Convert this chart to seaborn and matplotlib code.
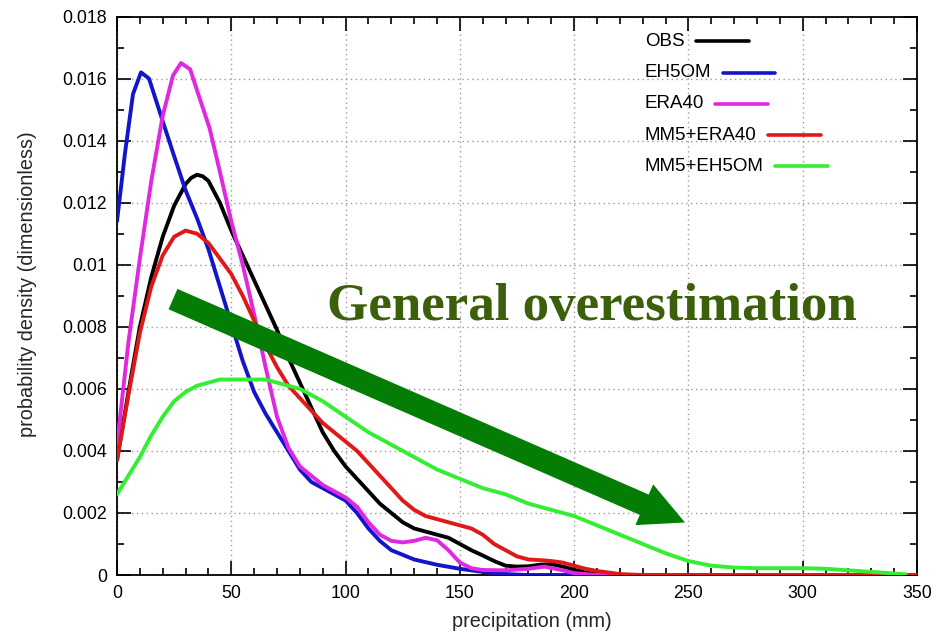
import numpy as np
import pandas as pd
import matplotlib
matplotlib.use("Agg")
import matplotlib.pyplot as plt
import seaborn as sns
from matplotlib.lines import Line2D
from matplotlib.offsetbox import TextArea, DrawingArea, HPacker, VPacker, AnchoredOffsetbox
from matplotlib.ticker import FuncFormatter, MultipleLocator

# ---------------- data ----------------
series_names = ["OBS", "EH5OM", "ERA40", "MM5+ERA40", "MM5+EH5OM"]
series_colors = ["#000000", "#1414c8", "#e028e0", "#e01818", "#33ee33"]

obs_x = [0, 5, 10, 15, 20, 25, 30, 32.5, 35, 37.5, 40, 45, 50, 55, 60, 65, 70, 75, 80, 85,
         90, 95, 100, 105, 110, 115, 120, 125, 130, 135, 140, 145, 150, 155, 160, 165, 170,
         175, 180, 185, 190, 195, 200, 205, 210, 220, 350]
obs_y = [0.0037, 0.0059, 0.0080, 0.0096, 0.0109, 0.0119, 0.0126, 0.0128, 0.0129, 0.01285,
         0.0127, 0.0120, 0.0111, 0.0103, 0.0095, 0.0087, 0.0079, 0.0070, 0.0062, 0.0054,
         0.0046, 0.0040, 0.0035, 0.0031, 0.0027, 0.0023, 0.0020, 0.0017, 0.0015, 0.0014,
         0.0013, 0.0012, 0.0010, 0.0008, 0.00063, 0.00045, 0.0003, 0.00027, 0.00028,
         0.00033, 0.00035, 0.00027, 0.00017, 0.00008, 0.00002, 0.0, 0.0]

eh5_x = [0, 3.5, 7, 10.5, 14, 17.5, 21, 25, 30, 35, 40, 45, 50, 55, 60, 65, 70, 75, 80,
         85, 90, 95, 100, 105, 110, 115, 120, 125, 130, 140, 150, 160, 170, 180, 350]
eh5_y = [0.0114, 0.0136, 0.0155, 0.0162, 0.0160, 0.0152, 0.0144, 0.0135, 0.0124, 0.0115,
         0.0105, 0.0093, 0.0081, 0.0069, 0.0059, 0.0052, 0.0046, 0.0040, 0.0034, 0.0030,
         0.0028, 0.0026, 0.0024, 0.0020, 0.0015, 0.0011, 0.0008, 0.00065, 0.0005, 0.00033,
         0.0002, 0.0001, 0.00003, 0.0, 0.0]

era_x = [0, 5, 10, 15, 20, 24.5, 28, 32, 36, 40.5, 45, 50, 55, 60, 65, 70, 75, 80, 85, 90,
         95, 100, 105, 110, 115, 120, 125, 130, 135, 140, 145, 150, 155, 160, 170, 180, 187,
         195, 200, 210, 350]
era_y = [0.0042, 0.0075, 0.0102, 0.0127, 0.0148, 0.0161, 0.0165, 0.0163, 0.0154, 0.0144,
         0.0130, 0.0114, 0.0100, 0.0084, 0.0067, 0.0051, 0.0041, 0.0035, 0.0032, 0.0029,
         0.0027, 0.0025, 0.0022, 0.0017, 0.0013, 0.0011, 0.00105, 0.0011, 0.0012, 0.00112,
         0.0008, 0.0004, 0.00022, 0.00016, 0.00015, 0.0002, 0.00027, 0.00015, 0.00006, 0.0,
         0.0]

mm5era_x = [0, 5, 10, 15, 20, 25, 30, 35, 40, 45, 50, 55, 60, 65, 70, 75, 80, 85, 90, 95,
            100, 105, 110, 115, 120, 125, 130, 135, 140, 145, 150, 155, 160, 165, 170, 175,
            180, 185, 190, 195, 200, 205, 210, 220, 230, 350]
mm5era_y = [0.0037, 0.0058, 0.0078, 0.0093, 0.0103, 0.0109, 0.0111, 0.0110, 0.0107, 0.0102,
            0.0097, 0.0090, 0.0082, 0.0074, 0.0067, 0.0061, 0.0057, 0.0053, 0.0049, 0.0046,
            0.0043, 0.0040, 0.0036, 0.0032, 0.0028, 0.0024, 0.0021, 0.0019, 0.0018, 0.0017,
            0.0016, 0.0015, 0.0013, 0.0010, 0.0008, 0.0006, 0.0005, 0.00048, 0.00045,
            0.0004, 0.0003, 0.0002, 0.00013, 0.00003, 0.0, 0.0]

mm5eh5_x = [0, 5, 10, 15, 20, 25, 30, 35, 40, 45, 50, 55, 60, 65, 70, 75, 80, 85, 90, 95,
            100, 105, 110, 115, 120, 125, 130, 135, 140, 145, 150, 160, 170, 180, 190, 200,
            210, 220, 230, 240, 250, 260, 270, 280, 290, 300, 310, 320, 330, 340, 345]
mm5eh5_y = [0.0026, 0.0032, 0.0038, 0.0045, 0.0051, 0.0056, 0.0059, 0.0061, 0.0062, 0.0063,
            0.0063, 0.0063, 0.0063, 0.0063, 0.0062, 0.0061, 0.0060, 0.0058, 0.0056, 0.00535,
            0.0051, 0.00485, 0.0046, 0.0044, 0.0042, 0.0040, 0.0038, 0.0036, 0.0034, 0.00325,
            0.0031, 0.0028, 0.0026, 0.0023, 0.0021, 0.0019, 0.0016, 0.0013, 0.0010, 0.0007,
            0.00045, 0.0003, 0.00024, 0.00022, 0.00022, 0.00022, 0.0002, 0.00015, 0.0001,
            0.00005, 0.00002]

x_ticks = [0, 50, 100, 150, 200, 250, 300, 350]
y_ticks = [0, 0.002, 0.004, 0.006, 0.008, 0.01, 0.012, 0.014, 0.016, 0.018]
x_label = "precipitation (mm)"
y_label = "probability density (dimensionless)"
annotation_text = "General overestimation"

# ---------------- build table ----------------
all_x = [obs_x, eh5_x, era_x, mm5era_x, mm5eh5_x]
all_y = [obs_y, eh5_y, era_y, mm5era_y, mm5eh5_y]
frames = []
for name, xs, ys in zip(series_names, all_x, all_y):
    frames.append(pd.DataFrame({"precip": xs, "density": ys, "series": name}))
df = pd.concat(frames, ignore_index=True)

# ---------------- style ----------------
sns.set_style("ticks")
plt.rcParams["font.family"] = ["Liberation Sans", "DejaVu Sans"]

fig = plt.figure(figsize=(9.37, 6.33), dpi=100)
ax = fig.add_axes([117 / 937, 1 - 575 / 633, 800 / 937, 558.5 / 633])

sns.lineplot(data=df, x="precip", y="density", hue="series", hue_order=series_names,
             palette=dict(zip(series_names, series_colors)), estimator=None, sort=False,
             linewidth=2.8, legend=False, ax=ax, zorder=3)
for ln in ax.get_lines():
    ln.set_solid_joinstyle("round")
    ln.set_solid_capstyle("round")

ax.set_xlim(0, 350)
ax.set_ylim(0, 0.018)
ax.set_xticks(x_ticks)
ax.set_yticks(y_ticks)
ax.xaxis.set_minor_locator(MultipleLocator(10))
ax.yaxis.set_minor_locator(MultipleLocator(0.001))
ax.yaxis.set_major_formatter(FuncFormatter(lambda v, p: "%g" % round(v, 6)))
ax.tick_params(which="both", direction="in", top=True, right=True, colors="black",
               labelsize=12.8, width=1.2)
ax.tick_params(which="major", length=10, pad=7)
ax.tick_params(which="minor", length=5)
for s in ax.spines.values():
    s.set_color("black")
    s.set_linewidth(1.3)
ax.grid(True, which="major", color="#9a9a9a", linestyle=(0, (1, 2.5)), linewidth=1.0)
ax.set_axisbelow(True)

ax.set_xlabel(x_label, fontsize=14.3)
ax.set_ylabel(y_label, fontsize=14.3)
ax.xaxis.set_label_coords(0.519, -0.084)
ax.yaxis.set_label_coords(-0.112, 0.52)
ax.xaxis.label.set_va("center")
ax.yaxis.label.set_va("center")

# ---------------- gnuplot-like key ----------------
rows = []
for name, col in zip(series_names, series_colors):
    ta = TextArea(name, textprops=dict(fontsize=13.5, color="black"))
    da = DrawingArea(38, 10, 0, 0)
    da.add_artist(Line2D([0, 38], [5, 5], color=col, linewidth=2.6))
    rows.append(HPacker(children=[ta, da], align="center", pad=0, sep=8))
key = VPacker(children=rows, align="left", pad=0, sep=10.3)
ab = AnchoredOffsetbox(loc="upper left", child=key, frameon=False, pad=0, borderpad=0,
                       bbox_to_anchor=(0.66, 0.971), bbox_transform=ax.transAxes)
ax.add_artist(ab)

# ---------------- annotation ----------------
ax.annotate("", xy=(0.71, 0.094), xytext=(0.07, 0.494),
            xycoords="axes fraction", textcoords="axes fraction",
            arrowprops=dict(arrowstyle="simple,head_length=32,head_width=32,tail_width=16",
                            mutation_scale=1, color="#047d04", shrinkA=0, shrinkB=0,
                            linewidth=0),
            zorder=5)
ax.text(0.594, 0.480, annotation_text, transform=ax.transAxes, ha="center", va="center",
        fontsize=38.2, fontweight="bold", family=["Liberation Serif", "DejaVu Serif"],
        color="#3b5f0a", zorder=6)

fig.savefig("out.png", dpi=100)
